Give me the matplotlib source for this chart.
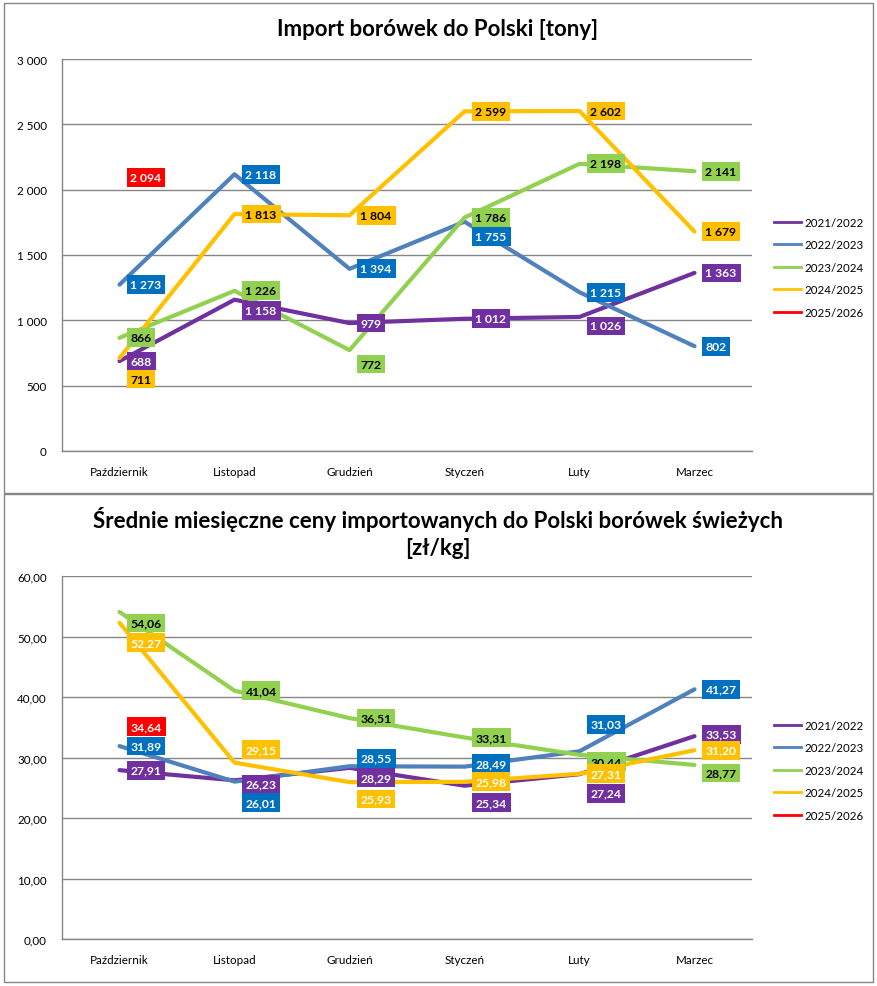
import matplotlib
matplotlib.use("Agg")
import matplotlib.pyplot as plt
from matplotlib.lines import Line2D
from matplotlib.patches import Rectangle

months = ["Październik", "Listopad", "Grudzień", "Styczeń", "Luty", "Marzec"]
seasons = ["2021/2022", "2022/2023", "2023/2024", "2024/2025", "2025/2026"]

import_2021 = [688, 1158, 979, 1012, 1026, 1363]
import_2022 = [1273, 2118, 1394, 1755, 1215, 802]
import_2023 = [866, 1226, 772, 1786, 2198, 2141]
import_2024 = [711, 1813, 1804, 2599, 2602, 1679]
import_2025 = [2094]

price_2021 = [27.91, 26.23, 28.29, 25.34, 27.24, 33.53]
price_2022 = [31.89, 26.01, 28.55, 28.49, 31.03, 41.27]
price_2023 = [54.06, 41.04, 36.51, 33.31, 30.44, 28.77]
price_2024 = [52.27, 29.15, 25.93, 25.98, 27.31, 31.20]
price_2025 = [34.64]

import_ticks = [0, 500, 1000, 1500, 2000, 2500, 3000]
price_ticks = [0, 10, 20, 30, 40, 50, 60]

# styles
line_colors = ["#7030A0", "#4F81BD", "#92D050", "#FFC000", "#FF0000"]
box_colors = ["#7030A0", "#0070C0", "#92D050", "#FFC000", "#FF0000"]
top_text_colors = ["white", "white", "black", "black", "white"]
bot_text_colors = ["white", "white", "black", "white", "white"]

# vertical label shifts in pixels (down positive, image coords)
top_shift = [
    [0, 11, 0, 0, 9, 0],
    [0, 0, 0, 15, 0, 0],
    [0, 0, 14, 0, 0, 0],
    [21, 0, 0, 0, 0, 0],
    [0],
]
bot_shift = [
    [0, 4, 10, 17, 19, -2],
    [0, 21, -8, -3, -27, 0],
    [11, 0, 0, 0, 7, 8],
    [20, -13, 17, 0, 0, 0],
    [-3],
]

W, H = 878, 987
DPI = 100
fig = plt.figure(figsize=(W / DPI, H / DPI), dpi=DPI)
fig.patch.set_facecolor("white")

FONT = "Lato"
GRID = "#868686"


def px_axes(left, top, right, bottom):
    return fig.add_axes([left / W, 1 - bottom / H, (right - left) / W, (bottom - top) / H])


def fmt_int(v):
    return f"{v:,}".replace(",", " ")


def fmt_dec(v):
    return f"{v:.2f}".replace(".", ",")


def draw_chart(ax, series, ticks, tick_fmt, shifts, text_colors, val_fmt):
    n = len(months)
    x = list(range(n))
    for i, s in enumerate(series):
        ax.plot(x[: len(s)], s, color=line_colors[i], lw=3.0, solid_capstyle="round",
                solid_joinstyle="round", zorder=3 + i * 0.1)
    for i, s in enumerate(series):
        for j, v in enumerate(s):
            ax.annotate(val_fmt(v), xy=(j, v), xytext=(11, -shifts[i][j]),
                        textcoords="offset pixels", ha="left", va="center",
                        fontsize=8.7, fontweight="bold", color=text_colors[i],
                        family=FONT,
                        bbox=dict(boxstyle="square,pad=0.32", fc=box_colors[i], ec="none"),
                        zorder=10 + i, annotation_clip=False)
    ax.set_xlim(-0.5, n - 0.5)
    ax.set_ylim(ticks[0], ticks[-1])
    ax.set_yticks(ticks)
    ax.set_yticklabels([tick_fmt(t) for t in ticks], family=FONT, fontsize=8.4)
    ax.set_xticks(x)
    ax.set_xticklabels(months, family=FONT, fontsize=8.4)
    ax.tick_params(axis="both", length=0, pad=11, colors="black")
    ax.grid(axis="y", color=GRID, lw=1.0, zorder=0)
    ax.set_axisbelow(True)
    for side in ["top", "right"]:
        ax.spines[side].set_visible(False)
    for side in ["left", "bottom"]:
        ax.spines[side].set_color(GRID)
        ax.spines[side].set_linewidth(1.0)
    handles = [Line2D([0], [0], color=c, lw=2) for c in line_colors]
    return handles


# chart frames
fig.add_artist(Rectangle((4 / W, 1 - 494 / H), (873 - 4) / W, (494 - 4) / H,
                         transform=fig.transFigure, fill=False, ec=GRID, lw=1))
fig.add_artist(Rectangle((4 / W, 1 - 983 / H), (873 - 4) / W, (983 - 495) / H,
                         transform=fig.transFigure, fill=False, ec=GRID, lw=1))

ax1 = px_axes(62, 60, 752, 452)
h1 = draw_chart(ax1, [import_2021, import_2022, import_2023, import_2024, import_2025],
                import_ticks, fmt_int, top_shift, top_text_colors, fmt_int)
fig.text(438 / W, 1 - 30 / H, "Import borówek do Polski [tony]", ha="center", va="center",
         fontsize=16, fontweight="bold", family=FONT)
fig.legend(h1, seasons, loc="upper left", bbox_to_anchor=(768 / W, 1 - 212 / H),
           frameon=False, prop=dict(family=FONT, size=8.3), handlelength=2.4,
           handletextpad=0.3, labelspacing=1.0, borderpad=0)

ax2 = px_axes(62, 577, 752, 940)
h2 = draw_chart(ax2, [price_2021, price_2022, price_2023, price_2024, price_2025],
                price_ticks, fmt_dec, bot_shift, bot_text_colors, fmt_dec)
fig.text(438 / W, 1 - 533 / H,
         "Średnie miesięczne ceny importowanych do Polski borówek świeżych\n[zł/kg]",
         ha="center", va="center", fontsize=16, fontweight="bold", family=FONT,
         linespacing=1.3)
fig.legend(h2, seasons, loc="upper left", bbox_to_anchor=(768 / W, 1 - 715 / H),
           frameon=False, prop=dict(family=FONT, size=8.3), handlelength=2.4,
           handletextpad=0.3, labelspacing=1.0, borderpad=0)

fig.savefig("out.png", dpi=DPI, facecolor="white")
